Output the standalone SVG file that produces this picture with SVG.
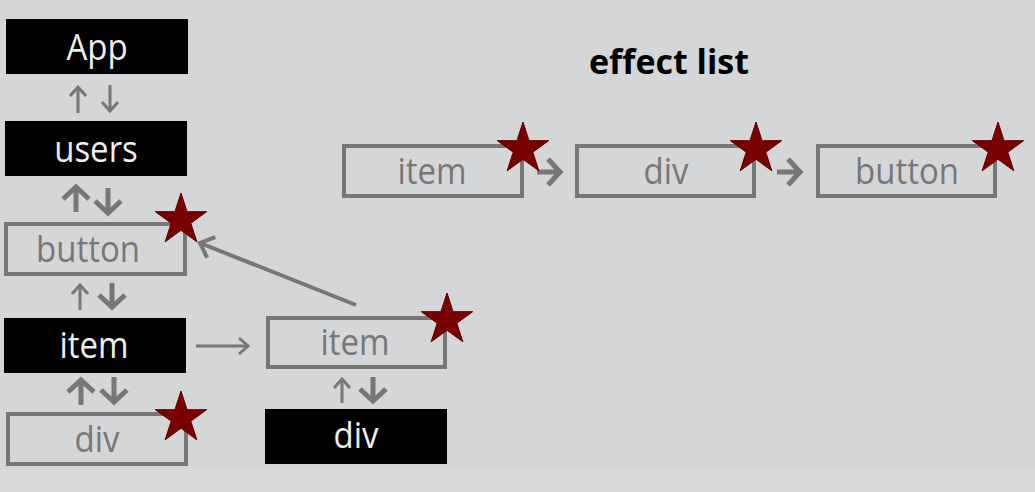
<svg xmlns="http://www.w3.org/2000/svg" width="1035" height="492" viewBox="0 0 1035 492">
<style>
.bg{fill:#d5d6d7}
.blk{fill:#000}
.out{fill:none;stroke:#777;stroke-width:4}
.tw{fill:#eeeeee;font-family:"Open Sans","Liberation Sans",sans-serif;font-size:33px;text-anchor:middle}
.tg{fill:#777;font-family:"Open Sans","Liberation Sans",sans-serif;font-size:33px;text-anchor:middle}
.star{fill:#7a0000;stroke:#5c0000;stroke-width:1}
.thin{fill:none;stroke:#777;stroke-width:3;marker-end:url(#hThin)}
.thick{fill:none;stroke:#777;stroke-width:5;marker-end:url(#hThick)}
.mid{fill:none;stroke:#777;stroke-width:4;marker-end:url(#hMid)}
.title{fill:#000;font-family:"Open Sans","Liberation Sans",sans-serif;font-size:34px;font-weight:bold;text-anchor:middle}
</style>
<defs>
<path id="star" class="star" d="M0,-27 L6.05,-8.33 L25.68,-8.34 L9.8,3.18 L15.87,21.84 L0,10.3 L-15.87,21.84 L-9.8,3.18 L-25.68,-8.34 L-6.05,-8.33 Z"/>
<marker id="hThin" markerUnits="userSpaceOnUse" markerWidth="30" markerHeight="30" viewBox="-15 -15 30 30" refX="0" refY="0" orient="auto">
<path d="M-9,-8 L0,0 L-9,8" fill="none" stroke="#777" stroke-width="3"/>
</marker>
<marker id="hThick" markerUnits="userSpaceOnUse" markerWidth="40" markerHeight="40" viewBox="-20 -20 40 40" refX="0" refY="0" orient="auto">
<path d="M-12,-13 L0,0 L-12,13" fill="none" stroke="#777" stroke-width="5"/>
</marker>
<marker id="hMid" markerUnits="userSpaceOnUse" markerWidth="40" markerHeight="40" viewBox="-20 -20 40 40" refX="0" refY="0" orient="auto">
<path d="M-12,-11 L0,0 L-12,11" fill="none" stroke="#777" stroke-width="4"/>
</marker>
</defs>
<rect class="bg" x="0" y="0" width="1035" height="492"/>
<rect x="0" y="470" width="1035" height="22" fill="#d9d9d9"/>

<g id="connectors">
<path class="thin" d="M78,113 L78,87"/>
<path class="thin" d="M110,85 L110,111"/>
<path class="thick" d="M76,212 L76,187"/>
<path class="thick" d="M108,188 L108,213"/>
<path class="thin" d="M80,310 L80,285"/>
<path class="thick" d="M112,283 L112,307"/>
<path class="thick" d="M81,405 L81,380"/>
<path class="thick" d="M114,377 L114,402"/>
<path class="thin" d="M342,403 L342,379"/>
<path class="thick" d="M373,377 L373,401"/>
<path class="thin" d="M196,346 L248,346"/>
<path class="mid" d="M356,305 L200,243"/>
<path class="thick" d="M537,172 L560,172"/>
<path class="thick" d="M777,172 L800,172"/>
</g>

<g id="app"><rect class="blk" x="6" y="19" width="182" height="55"/><text class="tw" transform="translate(97,60) scale(1,1.1)">App</text></g>
<g id="users"><rect class="blk" x="5" y="121" width="182" height="55"/><text class="tw" transform="translate(96,162) scale(1,1.1)">users</text></g>
<g id="button"><rect class="out" x="6" y="224" width="179" height="50"/><text class="tg" transform="translate(88,262) scale(1,1.1)">button</text><use href="#star" x="181" y="220"/></g>
<g id="item"><rect class="blk" x="4" y="318" width="182" height="55"/><text class="tw" transform="translate(94,358) scale(1,1.1)">item</text></g>
<g id="div"><rect class="out" x="8" y="414" width="178" height="50"/><text class="tg" transform="translate(97,452) scale(1,1.1)">div</text><use href="#star" x="181" y="418"/></g>
<g id="item2"><rect class="out" x="268" y="318" width="177" height="49"/><text class="tg" transform="translate(355,355) scale(1,1.1)">item</text><use href="#star" x="447" y="320"/></g>
<g id="div2"><rect class="blk" x="265" y="409" width="182" height="55"/><text class="tw" transform="translate(356,448) scale(1,1.1)">div</text></g>

<g id="title"><text class="title" x="669" y="74">effect list</text></g>
<g id="e-item"><rect class="out" x="344" y="146" width="178" height="50"/><text class="tg" transform="translate(432,184) scale(1,1.1)">item</text><use href="#star" x="523" y="149"/></g>
<g id="e-div"><rect class="out" x="577" y="146" width="177" height="50"/><text class="tg" transform="translate(666,184) scale(1,1.1)">div</text><use href="#star" x="756" y="149"/></g>
<g id="e-button"><rect class="out" x="818" y="146" width="177" height="50"/><text class="tg" transform="translate(907,184) scale(1,1.1)">button</text><use href="#star" x="998" y="149"/></g>
</svg>
